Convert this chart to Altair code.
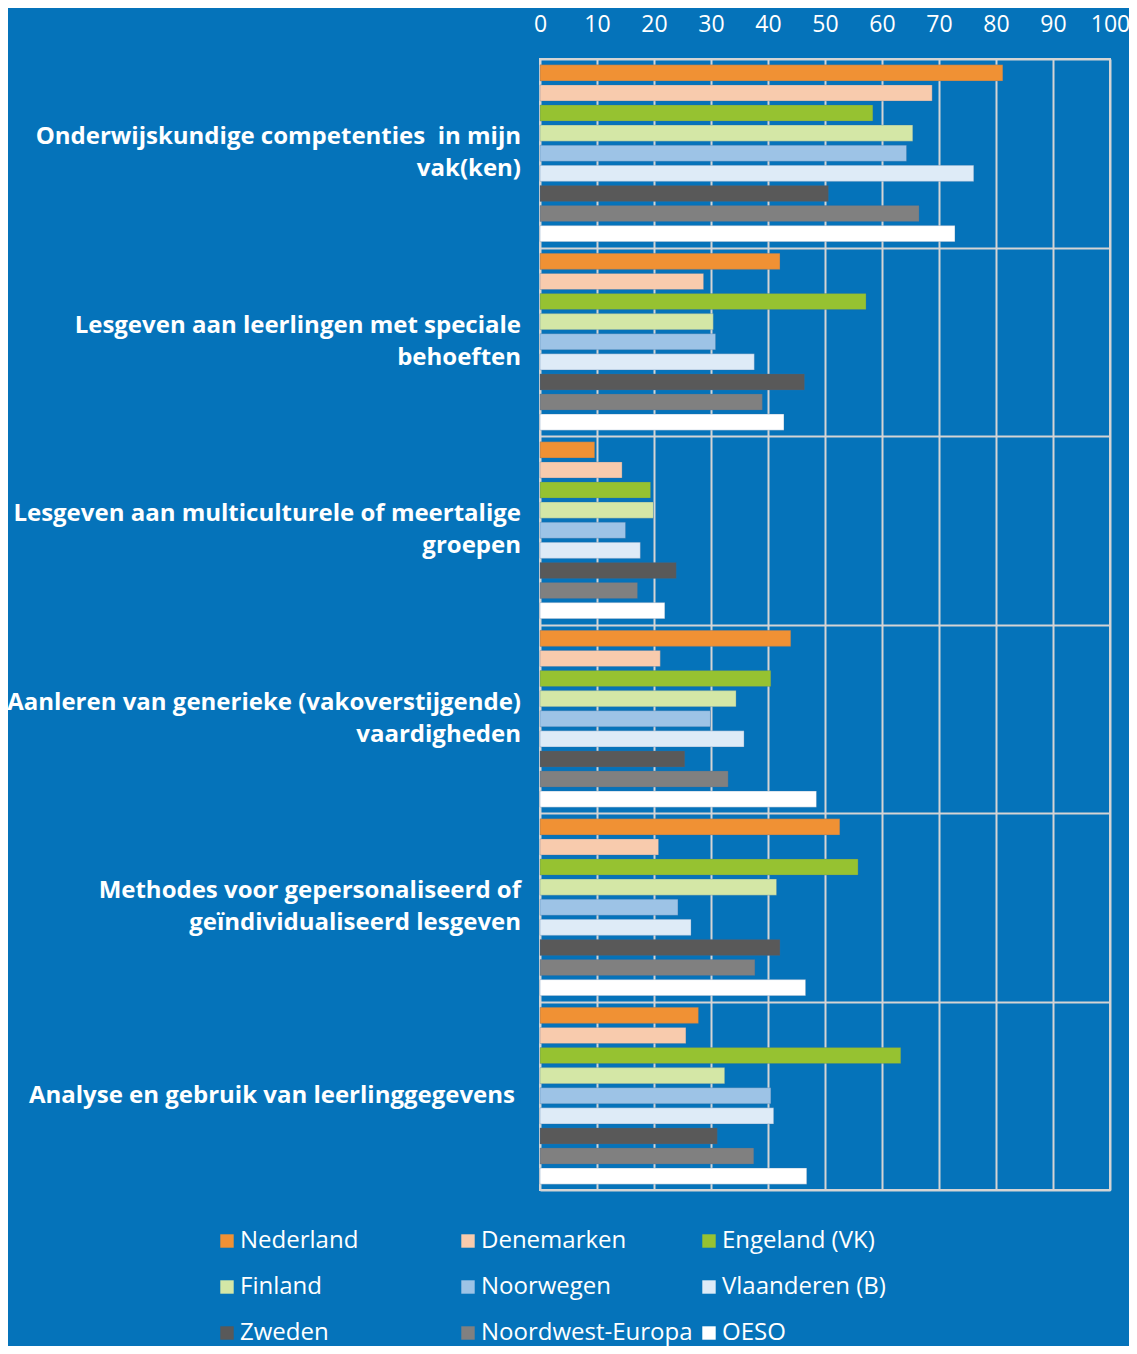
import altair as alt
import pandas as pd

categories = ["cat1", "cat2", "cat3", "cat4", "cat5", "cat6"]
label_line1 = [
    "Onderwijskundige competenties\u00a0\u00a0in mijn",
    "Lesgeven aan leerlingen met speciale",
    "Lesgeven aan multiculturele of meertalige",
    "Aanleren van generieke (vakoverstijgende)",
    "Methodes voor gepersonaliseerd of",
    "Analyse en gebruik van leerlinggegevens",
]
label_line2 = [
    "vak(ken)",
    "behoeften",
    "groepen",
    "vaardigheden",
    "geïndividualiseerd lesgeven",
    "",
]
series = ["Nederland", "Denemarken", "Engeland (VK)", "Finland", "Noorwegen",
          "Vlaanderen (B)", "Zweden", "Noordwest-Europa", "OESO"]
colors = ["#F09134", "#F8CBAD", "#96C231", "#D4E7A6", "#9DC3E6",
          "#DEEBF7", "#595959", "#808080", "#FFFFFF"]

nederland = [81.2, 42.1, 9.6, 44.0, 52.6, 27.8]
denemarken = [68.8, 28.7, 14.4, 21.1, 20.8, 25.6]
engeland = [58.4, 57.2, 19.4, 40.5, 55.8, 63.3]
finland = [65.4, 30.4, 19.9, 34.4, 41.5, 32.4]
noorwegen = [64.3, 30.8, 15.0, 29.9, 24.2, 40.5]
vlaanderen = [76.1, 37.6, 17.6, 35.8, 26.5, 41.0]
zweden = [50.6, 46.4, 23.9, 25.4, 42.1, 31.1]
nw_europa = [66.5, 39.0, 17.1, 33.0, 37.7, 37.5]
oeso = [72.8, 42.8, 21.9, 48.5, 46.6, 46.8]

values = [nederland, denemarken, engeland, finland, noorwegen,
          vlaanderen, zweden, nw_europa, oeso]

rows = []
for s, vals in zip(series, values):
    for c, v in zip(categories, vals):
        rows.append({"categorie": c, "land": s, "waarde": v})
df = pd.DataFrame(rows)

labels_df = pd.DataFrame({"categorie": categories, "l1": label_line1, "l2": label_line2})
labels_df["twee"] = labels_df["l2"] != ""

# legend is filled column by column: reorder so rows read like the reference
legend_idx = [0, 3, 6, 1, 4, 7, 2, 5, 8]
legend_domain = [series[i] for i in legend_idx]
legend_range = [colors[i] for i in legend_idx]

FONT = "Open Sans"
BG = "#0573BA"
GRID = "#D4D4D4"

y_enc = alt.Y("categorie:N", sort=categories,
              scale=alt.Scale(paddingInner=0, paddingOuter=0),
              axis=alt.Axis(title=None, labels=False, grid=True, gridColor=GRID,
                            gridWidth=2, tickBand="extent", ticks=False, domain=False))

bars = alt.Chart(df).mark_bar(stroke="#3A6FA0", strokeWidth=0.6, strokeOpacity=0.5).encode(
    x=alt.X("waarde:Q",
            scale=alt.Scale(domain=[0, 100], nice=False, zero=True),
            axis=alt.Axis(orient="top", values=list(range(0, 101, 10)), title=None,
                          grid=True, gridColor=GRID, gridWidth=2, gridOpacity=1,
                          ticks=False, tickSize=0, domain=False,
                          labelColor="white", labelFont=FONT, labelFontSize=23,
                          labelPadding=23, labelFlush=False)),
    y=y_enc,
    yOffset=alt.YOffset("land:N", sort=series,
                        scale=alt.Scale(paddingInner=0.2, paddingOuter=0.29)),
    color=alt.Color("land:N", sort=legend_domain,
                    scale=alt.Scale(domain=legend_domain, range=legend_range),
                    legend=alt.Legend(title=None, orient="none", legendX=-325, legendY=1170,
                                      columns=3, gridAlign="all", columnPadding=4,
                                      rowPadding=22, symbolType="square", symbolSize=180,
                                      symbolStrokeWidth=0, symbolOffset=0,
                                      labelColor="white", labelFont=FONT, labelFontSize=24,
                                      labelOffset=1, labelLimit=400)),
)

text_props = dict(align="right", baseline="middle", font=FONT, fontSize=24,
                  fontWeight="bold", color="white")

lab_base = alt.Chart(labels_df)
first_two = lab_base.transform_filter("datum.twee").mark_text(dy=-16, **text_props).encode(
    y=y_enc, x=alt.value(-19), text="l1:N")
second_two = lab_base.transform_filter("datum.twee").mark_text(dy=16, **text_props).encode(
    y=y_enc, x=alt.value(-19), text="l2:N")
single = lab_base.transform_filter("!datum.twee").mark_text(**text_props).encode(
    y=y_enc, x=alt.value(-25), text="l1:N")

chart = alt.layer(bars, first_two, second_two, single).properties(
    width=570, height=1131,
    background=BG,
    padding={"left": 532, "top": 51, "right": 19, "bottom": 156},
    autosize=alt.AutoSizeParams(type="none"),
).configure_view(stroke=GRID, strokeWidth=2)

chart.save("out.html", embed_options={"renderer": "svg", "actions": False})
